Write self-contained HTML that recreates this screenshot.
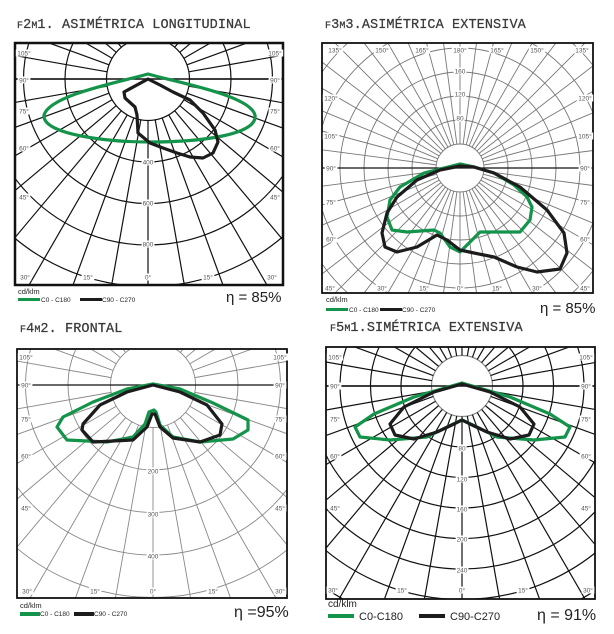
<!DOCTYPE html>
<html><head><meta charset="utf-8"><style>
html,body{margin:0;padding:0;background:#fff;overflow:hidden;width:614px;height:634px}
svg{display:block}
.t{font-family:"Liberation Mono",monospace;font-size:13.5px;fill:#3a3a3a;letter-spacing:0.1px;stroke:#3a3a3a;stroke-width:0.25}
.s{font-size:10px}
.a{font-family:"Liberation Sans",sans-serif;font-size:6.5px;fill:#555;text-anchor:middle}
.lg{font-family:"Liberation Sans",sans-serif;font-size:6.5px;fill:#222}
.eta{font-family:"Liberation Sans",sans-serif;font-size:15px;fill:#222}
</style></head><body>
<svg id="s" width="614" height="634" xmlns="http://www.w3.org/2000/svg">
<defs>
<clipPath id="c1"><rect x="15" y="43" width="268" height="242"/></clipPath>
<clipPath id="c2"><rect x="322" y="43" width="271" height="250"/></clipPath>
<clipPath id="c3"><rect x="17" y="349" width="270" height="249"/></clipPath>
<clipPath id="c4"><rect x="326" y="347" width="269" height="252"/></clipPath>
</defs>
<g id="g1" clip-path="url(#c1)"></g>
<g id="g2" clip-path="url(#c2)"></g>
<g id="g3" clip-path="url(#c3)"></g>
<g id="g4" clip-path="url(#c4)"></g>

<text class="t" x="17" y="28"><tspan class="s">F</tspan>2<tspan class="s">M</tspan>1. ASIMÉTRICA LONGITUDINAL</text>
<text class="t" x="325" y="28"><tspan class="s">F</tspan>3<tspan class="s">M</tspan>3.ASIMÉTRICA EXTENSIVA</text>
<text class="t" x="20" y="332"><tspan class="s">F</tspan>4<tspan class="s">M</tspan>2. FRONTAL</text>
<text class="t" x="330" y="331"><tspan class="s">F</tspan>5<tspan class="s">M</tspan>1.SIMÉTRICA EXTENSIVA</text>

<g fill="none" stroke-linejoin="round">
<path clip-path="url(#c1)" stroke="#14934a" stroke-width="3.2" d="M148,74 C120,82 50,95 44,115 C42,135 110,142 150,142 C200,142 258,135 255,115 C250,95 175,82 148,74 Z"/>
<path clip-path="url(#c1)" stroke="#1c1c1c" stroke-width="3.2" d="M148,79 L124,92 L125,98 L135,107 L137,115 L138,133 L150,143 L163,148 L177,153 L190,157 L203,158 L213,153 L218,142 L215,130 L203,113 L190,100 L173,92 L160,85 Z"/>

<path stroke="#14934a" stroke-width="3.2" d="M460,164 L424,173 L400,187 L390,200 L387,217 L392,230 L407,232 L434,230 L440,233 L450,247 L460,252 L467,245 L480,232 L494,232 L520,232 L530,220 L532,207 L527,197 L514,185 L494,173 L474,167 Z"/>
<path stroke="#1c1c1c" stroke-width="3.2" d="M460,166 L440,170 L417,180 L397,197 L387,213 L382,233 L385,247 L397,252 L417,247 L437,235 L447,240 L460,250 L474,253 L494,257 L517,267 L537,272 L560,269 L567,253 L564,233 L547,210 L520,187 L494,173 L474,167 Z"/>

<path stroke="#14934a" stroke-width="3.2" d="M153,384 L127,389 L93,402 L63,417 L57,427 L67,440 L107,442 L133,437 L145,424 L149,412 L154,410 L156,412 L160,425 L173,437 L200,442 L233,439 L248,430 L248,420 L213,403 L180,389 Z"/>
<path stroke="#1c1c1c" stroke-width="3.2" d="M153,385 L127,392 L100,405 L83,424 L82,430 L93,442 L133,440 L147,427 L152,414 L155,414 L160,427 L173,438 L200,442 L220,435 L222,424 L207,405 L180,392 Z"/>

<path stroke="#14934a" stroke-width="3.2" d="M462,383 L414,397 L374,414 L355,427 L360,437 L390,440 L427,437 L447,427 L462,420 L477,427 L497,437 L534,440 L565,437 L570,427 L550,414 L510,397 Z"/>
<path stroke="#1c1c1c" stroke-width="3.2" d="M462,384 L434,392 L404,407 L390,424 L395,435 L414,439 L437,432 L454,424 L462,420 L470,424 L487,432 L510,439 L529,435 L534,424 L520,407 L490,392 Z"/>
</g>

<rect x="15" y="43" width="268" height="242" fill="none" stroke="#111" stroke-width="2.5"/>
<rect x="322" y="43" width="271" height="250" fill="none" stroke="#111" stroke-width="1.8"/>
<rect x="17" y="349" width="270" height="249" fill="none" stroke="#111" stroke-width="1.8"/>
<rect x="326" y="347" width="269" height="252" fill="none" stroke="#111" stroke-width="1.8"/>

<g id="labels"></g>

<text class="lg" x="18" y="294" style="font-size:7.5px">cd/klm</text>
<rect x="18" y="298" width="22" height="3" fill="#14934a"/><text class="lg" x="41" y="302">C0 - C180</text>
<rect x="80" y="298" width="22" height="3" fill="#1c1c1c"/><text class="lg" x="102" y="302">C90 - C270</text>
<text class="eta" x="226" y="302">η = 85%</text>

<text class="lg" x="326" y="302" style="font-size:7.5px">cd/klm</text>
<rect x="326" y="308" width="22" height="3" fill="#14934a"/><text class="lg" x="349" y="312">C0 - C180</text>
<rect x="380" y="308" width="22" height="3" fill="#1c1c1c"/><text class="lg" x="402" y="312">C90 - C270</text>
<text class="eta" x="540" y="313">η = 85%</text>

<text class="lg" x="20" y="608" style="font-size:7.5px">cd/klm</text>
<rect x="20" y="612" width="20" height="4" fill="#14934a"/><text class="lg" x="40" y="616">C0 - C180</text>
<rect x="74" y="612" width="20" height="4" fill="#1c1c1c"/><text class="lg" x="94" y="616">C90 - C270</text>
<text class="eta" x="234" y="617" style="font-size:16px">η =95%</text>

<text class="lg" x="328" y="607" style="font-size:10px">cd/klm</text>
<rect x="328" y="614" width="26" height="4" fill="#14934a"/><text class="lg" x="359" y="620" style="font-size:11px">C0-C180</text>
<rect x="419" y="614" width="26" height="4" fill="#1c1c1c"/><text class="lg" x="450" y="620" style="font-size:11px">C90-C270</text>
<text class="eta" x="537" y="620" style="font-size:16px">η = 91%</text>
</svg>
<script>
var NS="http://www.w3.org/2000/svg";
function el(p,n,a){var e=document.createElementNS(NS,n);for(var k in a)e.setAttribute(k,a[k]);p.insertBefore(e,p.firstChild);return e;}
function grid(id,cx,cy,step,col,sw,inner,da){
 var g=document.getElementById(id);
 var frag=[];
 for(var n=1;n<=12;n++)frag.push(["circle",{cx:cx,cy:cy,r:step*n,fill:n==1?"#fff":"none",stroke:inner&&n==1?inner:col,"stroke-width":sw}]);
 for(var a=0;a<360;a+=da){var t=a*Math.PI/180;
  frag.push(["line",{x1:cx+step*Math.sin(t),y1:cy+step*Math.cos(t),x2:cx+400*Math.sin(t),y2:cy+400*Math.cos(t),stroke:col,"stroke-width":sw}]);}
 frag.push(["line",{x1:cx-300,y1:cy,x2:cx+300,y2:cy,stroke:"#111","stroke-width":sw*1.3}]);
 for(var i=frag.length-1;i>=0;i--)el(g,frag[i][0],frag[i][1]);
}
grid("g1",148,79,41.5,"#111",1.2,null,10);
grid("g2",460,168,24,"#777",0.9,null,7.5);
grid("g3",153,385,42.5,"#888",0.9,null,10);
grid("g4",462,386,30.5,"#111",1.2,"#888",10);
var L=document.getElementById("labels");
function lab(x,y,t){var e=document.createElementNS(NS,"text");e.setAttribute("class","a");e.setAttribute("x",x);e.setAttribute("y",y+2.5);e.textContent=t;
 var w=t.length*3.6+2;var r=document.createElementNS(NS,"rect");r.setAttribute("x",x-w/2);r.setAttribute("y",y-3.5);r.setAttribute("width",w);r.setAttribute("height",7);r.setAttribute("fill","#fff");L.appendChild(r);L.appendChild(e);}
function side(xl,xr,ys,ts){for(var i=0;i<ys.length;i++){lab(xl,ys[i],ts[i]);lab(xr,ys[i],ts[i]);}}
side(24,275,[53,80,111,148,197],["105°","90°","75°","60°","45°"]);
[[25,"30°"],[88,"15°"],[148,"0°"],[208,"15°"],[272,"30°"]].forEach(function(p){lab(p[0],277,p[1]);});
lab(148,162,"400");lab(148,203,"600");lab(148,244,"800");
side(331,585,[98,136,168,202,239],["120°","105°","90°","75°","60°"]);
[[335,"135°"],[382,"150°"],[422,"165°"],[460,"180°"],[497,"165°"],[537,"150°"],[582,"135°"]].forEach(function(p){lab(p[0],50,p[1]);});
[[330,"45°"],[382,"30°"],[424,"15°"],[460,"0°"],[497,"15°"],[537,"30°"],[585,"45°"]].forEach(function(p){lab(p[0],288,p[1]);});
lab(460,118,"80");lab(460,94,"120");lab(460,71,"160");
side(26,280,[357,385,419,456,508],["105°","90°","75°","60°","45°"]);
[[27,"30°"],[95,"15°"],[153,"0°"],[213,"15°"],[280,"30°"]].forEach(function(p){lab(p[0],591,p[1]);});
lab(153,471,"200");lab(153,514,"300");lab(153,556,"400");
side(335,586,[357,386,419,456,508],["105°","90°","75°","60°","45°"]);
[[333,"30°"],[402,"15°"],[462,"0°"],[523,"15°"],[588,"30°"]].forEach(function(p){lab(p[0],590,p[1]);});
lab(462,448,"80");lab(462,479,"120");lab(462,509,"160");lab(462,539,"200");lab(462,570,"240");
</script>
</body></html>
